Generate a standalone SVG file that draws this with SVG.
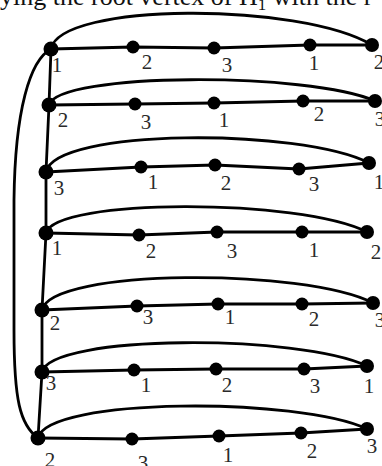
<svg xmlns="http://www.w3.org/2000/svg" width="382" height="466" viewBox="0 0 382 466">
<style>
.e{fill:none;stroke:#000;stroke-width:2.8;stroke-linecap:round;stroke-linejoin:round}
.n{fill:#000}
.l{font-family:"Liberation Serif","Times New Roman",serif;font-size:21px;fill:#2a2a2a;text-anchor:middle}
.cap{font-family:"Liberation Serif","Times New Roman",serif;font-size:26px;fill:#111}
</style>
<rect width="382" height="466" fill="#fff"/>
<text class="cap" x="0" y="5">ying the root vertex of H<tspan font-size="17" dy="5">1</tspan><tspan dy="-5"> with the r</tspan></text>
<g id="connectors">
<path class="e" d="M51,49 L49,105 L46,172 L46,233 L42,310 L42,372 L38,438"/>
<path class="e" d="M51,49 C30,60 15,110 14,200 L14,330 C14,400 20,425 38,438"/>
<path class="e" d="M51,49 L133,47 L214,48 L310,45 L372,45"/>
<path class="e" d="M49,105 L135,104 L214,103 L303,101 L375,101"/>
<path class="e" d="M46,172 L141,167 L215,165 L299,169 L369,163"/>
<path class="e" d="M46,233 L139,235 L217,232 L302,232 L367,232"/>
<path class="e" d="M42,310 L137,306 L218,304 L302,304 L373,303"/>
<path class="e" d="M42,372 L134,370 L216,369 L304,369 L367,366"/>
<path class="e" d="M38,438 L132,439 L219,436 L301,433 L367,429"/>
<path class="e" d="M51,49 C60,2 300,2 372,45"/>
<path class="e" d="M49,105 C58,72 310,72 375,101"/>
<path class="e" d="M46,172 C55,128 300,128 369,163"/>
<path class="e" d="M46,233 C55,198 300,198 367,232"/>
<path class="e" d="M42,310 C51,268 305,268 373,303"/>
<path class="e" d="M42,372 C51,334 300,334 367,366"/>
<path class="e" d="M38,438 C47,397 300,397 367,429"/>
</g>
<g id="r1">
<g id="n1a"><circle class="n" cx="51" cy="49" r="7.5"/><text class="l" x="57" y="72">1</text></g>
<g id="n1b"><circle class="n" cx="133" cy="47" r="6.5"/><text class="l" x="147" y="69">2</text></g>
<g id="n1c"><circle class="n" cx="214" cy="48" r="6.5"/><text class="l" x="227" y="72">3</text></g>
<g id="n1d"><circle class="n" cx="310" cy="45" r="6.5"/><text class="l" x="314" y="70">1</text></g>
<g id="n1e"><circle class="n" cx="372" cy="45" r="7"/><text class="l" x="379" y="69">2</text></g>
</g>
<g id="r2">
<g id="n2a"><circle class="n" cx="49" cy="105" r="7.5"/><text class="l" x="63" y="127">2</text></g>
<g id="n2b"><circle class="n" cx="135" cy="104" r="6.5"/><text class="l" x="146" y="129">3</text></g>
<g id="n2c"><circle class="n" cx="214" cy="103" r="6.5"/><text class="l" x="224" y="127">1</text></g>
<g id="n2d"><circle class="n" cx="303" cy="101" r="6.5"/><text class="l" x="319" y="121">2</text></g>
<g id="n2e"><circle class="n" cx="375" cy="101" r="7"/><text class="l" x="380" y="126">3</text></g>
</g>
<g id="r3">
<g id="n3a"><circle class="n" cx="46" cy="172" r="7.5"/><text class="l" x="59" y="195">3</text></g>
<g id="n3b"><circle class="n" cx="141" cy="167" r="6.5"/><text class="l" x="153" y="189">1</text></g>
<g id="n3c"><circle class="n" cx="215" cy="165" r="6.5"/><text class="l" x="226" y="190">2</text></g>
<g id="n3d"><circle class="n" cx="299" cy="169" r="6.5"/><text class="l" x="314" y="191">3</text></g>
<g id="n3e"><circle class="n" cx="369" cy="163" r="7"/><text class="l" x="379" y="189">1</text></g>
</g>
<g id="r4">
<g id="n4a"><circle class="n" cx="46" cy="233" r="7.5"/><text class="l" x="57" y="255">1</text></g>
<g id="n4b"><circle class="n" cx="139" cy="235" r="6.5"/><text class="l" x="151" y="258">2</text></g>
<g id="n4c"><circle class="n" cx="217" cy="232" r="6.5"/><text class="l" x="232" y="258">3</text></g>
<g id="n4d"><circle class="n" cx="302" cy="232" r="6.5"/><text class="l" x="314" y="257">1</text></g>
<g id="n4e"><circle class="n" cx="367" cy="232" r="7"/><text class="l" x="376" y="259">2</text></g>
</g>
<g id="r5">
<g id="n5a"><circle class="n" cx="42" cy="310" r="7.5"/><text class="l" x="55" y="330">2</text></g>
<g id="n5b"><circle class="n" cx="137" cy="306" r="6.5"/><text class="l" x="148" y="324">3</text></g>
<g id="n5c"><circle class="n" cx="218" cy="304" r="6.5"/><text class="l" x="230" y="324">1</text></g>
<g id="n5d"><circle class="n" cx="302" cy="304" r="6.5"/><text class="l" x="314" y="326">2</text></g>
<g id="n5e"><circle class="n" cx="373" cy="303" r="7"/><text class="l" x="380" y="327">3</text></g>
</g>
<g id="r6">
<g id="n6a"><circle class="n" cx="42" cy="372" r="7.5"/><text class="l" x="51" y="390">3</text></g>
<g id="n6b"><circle class="n" cx="134" cy="370" r="6.5"/><text class="l" x="146" y="392">1</text></g>
<g id="n6c"><circle class="n" cx="216" cy="369" r="6.5"/><text class="l" x="227" y="392">2</text></g>
<g id="n6d"><circle class="n" cx="304" cy="369" r="6.5"/><text class="l" x="315" y="393">3</text></g>
<g id="n6e"><circle class="n" cx="367" cy="366" r="7"/><text class="l" x="369" y="393">1</text></g>
</g>
<g id="r7">
<g id="n7a"><circle class="n" cx="38" cy="438" r="7.5"/><text class="l" x="50" y="467">2</text></g>
<g id="n7b"><circle class="n" cx="132" cy="439" r="6.5"/><text class="l" x="143" y="470">3</text></g>
<g id="n7c"><circle class="n" cx="219" cy="436" r="6.5"/><text class="l" x="228" y="462">1</text></g>
<g id="n7d"><circle class="n" cx="301" cy="433" r="6.5"/><text class="l" x="312" y="458">2</text></g>
<g id="n7e"><circle class="n" cx="367" cy="429" r="7"/><text class="l" x="372" y="453">3</text></g>
</g>
</svg>
